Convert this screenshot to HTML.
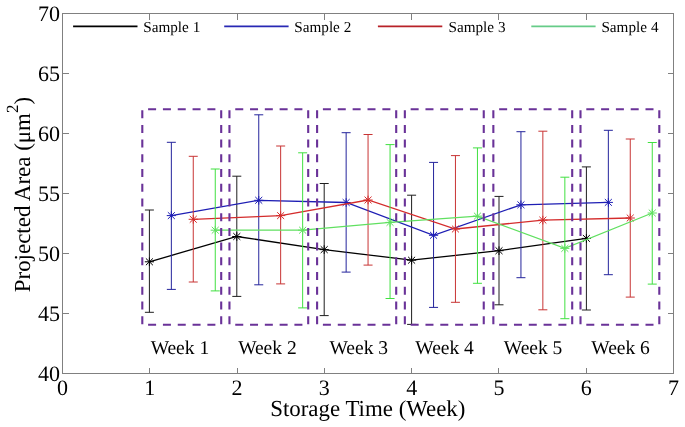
<!DOCTYPE html>
<html><head><meta charset="utf-8"><style>
html,body{margin:0;padding:0;background:#fff;}
svg{display:block;filter:blur(0.35px);}
text{font-family:"Liberation Serif",serif;fill:#000;text-rendering:geometricPrecision;}
</style></head><body>
<svg width="685" height="427" viewBox="0 0 685 427">
<rect width="685" height="427" fill="#fff"/>

<g stroke="#808080" stroke-width="1" fill="none" shape-rendering="crispEdges">
<rect x="62.5" y="13.5" width="611" height="360"/>
<line x1="149.50" y1="373.5" x2="149.50" y2="367.5"/><line x1="149.50" y1="13.5" x2="149.50" y2="19.5"/>
<line x1="237.50" y1="373.5" x2="237.50" y2="367.5"/><line x1="237.50" y1="13.5" x2="237.50" y2="19.5"/>
<line x1="324.50" y1="373.5" x2="324.50" y2="367.5"/><line x1="324.50" y1="13.5" x2="324.50" y2="19.5"/>
<line x1="411.50" y1="373.5" x2="411.50" y2="367.5"/><line x1="411.50" y1="13.5" x2="411.50" y2="19.5"/>
<line x1="498.50" y1="373.5" x2="498.50" y2="367.5"/><line x1="498.50" y1="13.5" x2="498.50" y2="19.5"/>
<line x1="586.50" y1="373.5" x2="586.50" y2="367.5"/><line x1="586.50" y1="13.5" x2="586.50" y2="19.5"/>
<line x1="62.5" y1="313.5" x2="68.5" y2="313.5"/><line x1="673.5" y1="313.5" x2="667.5" y2="313.5"/>
<line x1="62.5" y1="253.5" x2="68.5" y2="253.5"/><line x1="673.5" y1="253.5" x2="667.5" y2="253.5"/>
<line x1="62.5" y1="193.5" x2="68.5" y2="193.5"/><line x1="673.5" y1="193.5" x2="667.5" y2="193.5"/>
<line x1="62.5" y1="133.5" x2="68.5" y2="133.5"/><line x1="673.5" y1="133.5" x2="667.5" y2="133.5"/>
<line x1="62.5" y1="73.5" x2="68.5" y2="73.5"/><line x1="673.5" y1="73.5" x2="667.5" y2="73.5"/>
</g>
<g stroke="#1e1e1e" stroke-width="1" fill="none">
<path d="M149.40 210.00V312.30M144.90 210.00H153.90M144.90 312.30H153.90"/>
<path d="M236.80 176.20V296.40M232.30 176.20H241.30M232.30 296.40H241.30"/>
<path d="M324.20 183.50V315.60M319.70 183.50H328.70M319.70 315.60H328.70"/>
<path d="M411.60 195.20V324.40M407.10 195.20H416.10M407.10 324.40H416.10"/>
<path d="M499.00 196.40V304.80M494.50 196.40H503.50M494.50 304.80H503.50"/>
<path d="M586.40 166.90V310.00M581.90 166.90H590.90M581.90 310.00H590.90"/>
</g>
<polyline points="149.40,261.80 236.80,236.50 324.20,249.60 411.60,260.20 499.00,250.70 586.40,238.40" stroke="#000000" stroke-width="1.3" fill="none"/>
<g stroke="#000000" stroke-width="1" fill="none">
<path d="M144.80 261.80H154.00M149.40 257.50V266.10M145.90 258.40L152.90 265.20M145.90 265.20L152.90 258.40"/>
<path d="M232.20 236.50H241.40M236.80 232.20V240.80M233.30 233.10L240.30 239.90M233.30 239.90L240.30 233.10"/>
<path d="M319.60 249.60H328.80M324.20 245.30V253.90M320.70 246.20L327.70 253.00M320.70 253.00L327.70 246.20"/>
<path d="M407.00 260.20H416.20M411.60 255.90V264.50M408.10 256.80L415.10 263.60M408.10 263.60L415.10 256.80"/>
<path d="M494.40 250.70H503.60M499.00 246.40V255.00M495.50 247.30L502.50 254.10M495.50 254.10L502.50 247.30"/>
<path d="M581.80 238.40H591.00M586.40 234.10V242.70M582.90 235.00L589.90 241.80M582.90 241.80L589.90 235.00"/>
</g>
<g stroke="#24249c" stroke-width="1" fill="none">
<path d="M171.35 142.30V289.40M166.85 142.30H175.85M166.85 289.40H175.85"/>
<path d="M258.75 114.80V284.80M254.25 114.80H263.25M254.25 284.80H263.25"/>
<path d="M346.15 132.70V272.10M341.65 132.70H350.65M341.65 272.10H350.65"/>
<path d="M433.55 162.40V307.40M429.05 162.40H438.05M429.05 307.40H438.05"/>
<path d="M520.95 131.70V277.70M516.45 131.70H525.45M516.45 277.70H525.45"/>
<path d="M608.35 130.30V274.70M603.85 130.30H612.85M603.85 274.70H612.85"/>
</g>
<polyline points="171.35,215.60 258.75,200.30 346.15,202.50 433.55,235.30 520.95,204.80 608.35,202.40" stroke="#1e1eb4" stroke-width="1.3" fill="none"/>
<g stroke="#1e1eb4" stroke-width="1" fill="none">
<path d="M166.75 215.60H175.95M171.35 211.30V219.90M167.85 212.20L174.85 219.00M167.85 219.00L174.85 212.20"/>
<path d="M254.15 200.30H263.35M258.75 196.00V204.60M255.25 196.90L262.25 203.70M255.25 203.70L262.25 196.90"/>
<path d="M341.55 202.50H350.75M346.15 198.20V206.80M342.65 199.10L349.65 205.90M342.65 205.90L349.65 199.10"/>
<path d="M428.95 235.30H438.15M433.55 231.00V239.60M430.05 231.90L437.05 238.70M430.05 238.70L437.05 231.90"/>
<path d="M516.35 204.80H525.55M520.95 200.50V209.10M517.45 201.40L524.45 208.20M517.45 208.20L524.45 201.40"/>
<path d="M603.75 202.40H612.95M608.35 198.10V206.70M604.85 199.00L611.85 205.80M604.85 205.80L611.85 199.00"/>
</g>
<g stroke="#c83434" stroke-width="1" fill="none">
<path d="M193.25 156.30V282.00M188.75 156.30H197.75M188.75 282.00H197.75"/>
<path d="M280.65 146.00V283.90M276.15 146.00H285.15M276.15 283.90H285.15"/>
<path d="M368.05 134.50V265.10M363.55 134.50H372.55M363.55 265.10H372.55"/>
<path d="M455.45 155.60V302.30M450.95 155.60H459.95M450.95 302.30H459.95"/>
<path d="M542.85 131.20V309.80M538.35 131.20H547.35M538.35 309.80H547.35"/>
<path d="M630.25 139.00V297.10M625.75 139.00H634.75M625.75 297.10H634.75"/>
</g>
<polyline points="193.25,219.30 280.65,215.60 368.05,200.00 455.45,229.00 542.85,220.10 630.25,218.00" stroke="#d42c2c" stroke-width="1.3" fill="none"/>
<g stroke="#d42c2c" stroke-width="1" fill="none">
<path d="M188.65 219.30H197.85M193.25 215.00V223.60M189.75 215.90L196.75 222.70M189.75 222.70L196.75 215.90"/>
<path d="M276.05 215.60H285.25M280.65 211.30V219.90M277.15 212.20L284.15 219.00M277.15 219.00L284.15 212.20"/>
<path d="M363.45 200.00H372.65M368.05 195.70V204.30M364.55 196.60L371.55 203.40M364.55 203.40L371.55 196.60"/>
<path d="M450.85 229.00H460.05M455.45 224.70V233.30M451.95 225.60L458.95 232.40M451.95 232.40L458.95 225.60"/>
<path d="M538.25 220.10H547.45M542.85 215.80V224.40M539.35 216.70L546.35 223.50M539.35 223.50L546.35 216.70"/>
<path d="M625.65 218.00H634.85M630.25 213.70V222.30M626.75 214.60L633.75 221.40M626.75 221.40L633.75 214.60"/>
</g>
<g stroke="#40e040" stroke-width="1" fill="none">
<path d="M215.25 169.00V290.90M210.75 169.00H219.75M210.75 290.90H219.75"/>
<path d="M302.65 152.80V307.90M298.15 152.80H307.15M298.15 307.90H307.15"/>
<path d="M390.05 144.60V298.50M385.55 144.60H394.55M385.55 298.50H394.55"/>
<path d="M477.45 147.90V283.30M472.95 147.90H481.95M472.95 283.30H481.95"/>
<path d="M564.85 177.20V318.70M560.35 177.20H569.35M560.35 318.70H569.35"/>
<path d="M652.25 142.50V284.10M647.75 142.50H656.75M647.75 284.10H656.75"/>
</g>
<polyline points="215.25,230.20 302.65,230.20 390.05,222.40 477.45,216.10 564.85,248.40 652.25,213.00" stroke="#60e060" stroke-width="1.3" fill="none"/>
<g stroke="#60e060" stroke-width="1" fill="none">
<path d="M210.65 230.20H219.85M215.25 225.90V234.50M211.75 226.80L218.75 233.60M211.75 233.60L218.75 226.80"/>
<path d="M298.05 230.20H307.25M302.65 225.90V234.50M299.15 226.80L306.15 233.60M299.15 233.60L306.15 226.80"/>
<path d="M385.45 222.40H394.65M390.05 218.10V226.70M386.55 219.00L393.55 225.80M386.55 225.80L393.55 219.00"/>
<path d="M472.85 216.10H482.05M477.45 211.80V220.40M473.95 212.70L480.95 219.50M473.95 219.50L480.95 212.70"/>
<path d="M560.25 248.40H569.45M564.85 244.10V252.70M561.35 245.00L568.35 251.80M561.35 251.80L568.35 245.00"/>
<path d="M647.65 213.00H656.85M652.25 208.70V217.30M648.75 209.60L655.75 216.40M648.75 216.40L655.75 209.60"/>
</g>
<g stroke="#6a3298" stroke-width="2.1" fill="none">
<path stroke-dasharray="8 6.82" d="M148.10 109.2H215.41M148.10 324.8H215.41"/>
<path stroke-dasharray="8 6.71" d="M142.3 110.20V324.21M221.2 110.20V324.21"/>
<path stroke-dasharray="8 6.79" d="M235.25 109.2H302.41M235.25 324.8H302.41"/>
<path stroke-dasharray="8 6.71" d="M229.45 110.20V324.21M308.2 110.20V324.21"/>
<path stroke-dasharray="8 6.87" d="M322.90 109.2H390.41M322.90 324.8H390.41"/>
<path stroke-dasharray="8 6.71" d="M317.1 110.20V324.21M396.2 110.20V324.21"/>
<path stroke-dasharray="8 6.82" d="M410.65 109.2H477.96M410.65 324.8H477.96"/>
<path stroke-dasharray="8 6.71" d="M404.85 110.20V324.21M483.75 110.20V324.21"/>
<path stroke-dasharray="8 6.81" d="M499.15 109.2H566.41M499.15 324.8H566.41"/>
<path stroke-dasharray="8 6.71" d="M493.35 110.20V324.21M572.2 110.20V324.21"/>
<path stroke-dasharray="8 6.80" d="M586.30 109.2H653.51M586.30 324.8H653.51"/>
<path stroke-dasharray="8 6.71" d="M580.5 110.20V324.21M659.3 110.20V324.21"/>
</g>
<line x1="73.1" y1="26.4" x2="137.5" y2="26.4" stroke="#000" stroke-width="1.9"/>
<text x="143.2" y="31.5" font-size="15.2" word-spacing="0.2">Sample 1</text>
<line x1="224.2" y1="26.4" x2="288.6" y2="26.4" stroke="#2828b4" stroke-width="1.9"/>
<text x="294.3" y="31.5" font-size="15.2" word-spacing="0.2">Sample 2</text>
<line x1="377.9" y1="26.4" x2="442.3" y2="26.4" stroke="#b82228" stroke-width="1.9"/>
<text x="448.5" y="31.5" font-size="15.2" word-spacing="0.2">Sample 3</text>
<line x1="531.3" y1="26.4" x2="595.6" y2="26.4" stroke="#66cc88" stroke-width="1.9"/>
<text x="601.4" y="31.5" font-size="15.2" word-spacing="0.2">Sample 4</text>
<text x="60" y="381.0" font-size="22" text-anchor="end">40</text>
<text x="60" y="321.0" font-size="22" text-anchor="end">45</text>
<text x="60" y="261.0" font-size="22" text-anchor="end">50</text>
<text x="60" y="201.0" font-size="22" text-anchor="end">55</text>
<text x="60" y="141.0" font-size="22" text-anchor="end">60</text>
<text x="60" y="81.0" font-size="22" text-anchor="end">65</text>
<text x="60" y="21.0" font-size="22" text-anchor="end">70</text>
<text x="62.50" y="395.2" font-size="22" text-anchor="middle">0</text>
<text x="149.79" y="395.2" font-size="22" text-anchor="middle">1</text>
<text x="237.07" y="395.2" font-size="22" text-anchor="middle">2</text>
<text x="324.36" y="395.2" font-size="22" text-anchor="middle">3</text>
<text x="411.64" y="395.2" font-size="22" text-anchor="middle">4</text>
<text x="498.93" y="395.2" font-size="22" text-anchor="middle">5</text>
<text x="586.21" y="395.2" font-size="22" text-anchor="middle">6</text>
<text x="673.50" y="395.2" font-size="22" text-anchor="middle">7</text>
<text x="179.9" y="353.6" font-size="19.5" text-anchor="middle">Week 1</text>
<text x="267.4" y="353.6" font-size="19.5" text-anchor="middle">Week 2</text>
<text x="358.8" y="353.6" font-size="19.5" text-anchor="middle">Week 3</text>
<text x="444.6" y="353.6" font-size="19.5" text-anchor="middle">Week 4</text>
<text x="533.1" y="353.6" font-size="19.5" text-anchor="middle">Week 5</text>
<text x="620.6" y="353.6" font-size="19.5" text-anchor="middle">Week 6</text>
<text x="367.8" y="415.7" font-size="22.9" text-anchor="middle">Storage Time (Week)</text>
<text transform="translate(29.8,194.6) rotate(-90)" font-size="22.95" text-anchor="middle">Projected Area (μm<tspan font-size="17" dy="-11.5">2</tspan><tspan dy="11.5">)</tspan></text>
</svg></body></html>
